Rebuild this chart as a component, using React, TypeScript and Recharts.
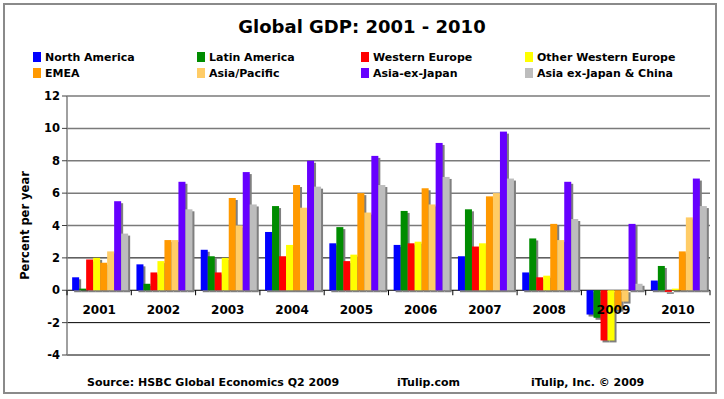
import React from 'react';
import { BarChart, Bar, XAxis, YAxis, CartesianGrid } from 'recharts';

const years = ['2001', '2002', '2003', '2004', '2005', '2006', '2007', '2008', '2009', '2010'];
const northAmerica = [0.8, 1.6, 2.5, 3.6, 2.9, 2.8, 2.1, 1.1, -1.5, 0.6];
const latinAmerica = [0.1, 0.4, 2.1, 5.2, 3.9, 4.9, 5.0, 3.2, -1.7, 1.5];
const westernEurope = [1.9, 1.1, 1.1, 2.1, 1.8, 2.9, 2.7, 0.8, -3.1, -0.1];
const otherWesternEurope = [2.0, 1.8, 2.0, 2.8, 2.2, 3.0, 2.9, 0.9, -3.1, 0.1];
const emea = [1.7, 3.1, 5.7, 6.5, 6.0, 6.3, 5.8, 4.1, -1.2, 2.4];
const asiaPacific = [2.4, 3.1, 4.0, 5.1, 4.8, 5.3, 6.0, 3.1, -0.7, 4.5];
const asiaExJapan = [5.5, 6.7, 7.3, 8.0, 8.3, 9.1, 9.8, 6.7, 4.1, 6.9];
const asiaExJapanChina = [3.5, 5.0, 5.3, 6.4, 6.5, 7.0, 6.9, 4.4, 0.4, 5.2];

const yTicks = [-4, -2, 0, 2, 4, 6, 8, 10, 12];

const series = [
  { key: 'na', name: 'North America', values: northAmerica, color: '#0000FF' },
  { key: 'la', name: 'Latin America', values: latinAmerica, color: '#008C00' },
  { key: 'we', name: 'Western Europe', values: westernEurope, color: '#FF0000' },
  { key: 'owe', name: 'Other Western Europe', values: otherWesternEurope, color: '#FFFF00' },
  { key: 'emea', name: 'EMEA', values: emea, color: '#FF9900' },
  { key: 'ap', name: 'Asia/Pacific', values: asiaPacific, color: '#FFCC66' },
  { key: 'axj', name: 'Asia-ex-Japan', values: asiaExJapan, color: '#6600FF' },
  { key: 'axjc', name: 'Asia ex-Japan & China', values: asiaExJapanChina, color: '#BDBDBD' },
];

const data = years.map((y, i) => {
  const row: any = { year: y };
  series.forEach((s) => { row[s.key] = s.values[i]; });
  return row;
});

const W = 724;
const H = 399;
const TOP = 96;
const BOTTOM = 44;
const LEFT = 67;
const RIGHT = 14;
const PLOT_H = H - TOP - BOTTOM;
const PLOT_W = W - LEFT - RIGHT;
const Y_MIN = -4;
const Y_MAX = 12;
const zeroY = TOP + (PLOT_H * Y_MAX) / (Y_MAX - Y_MIN);
const catW = PLOT_W / years.length;

const FONT = '"DejaVu Sans", Verdana, sans-serif';

const ShadowBar = (props: any) => {
  const { x, y, width, height, fill } = props;
  if (width == null || height == null) return null;
  const top = Math.min(y, y + height);
  const h = Math.abs(height);
  if (h < 0.01) return null;
  return (
    <g>
      <rect x={x + 2} y={top + 2} width={width} height={h} fill="#7f7f7f" />
      <rect x={x} y={top} width={width} height={h} fill={fill} />
    </g>
  );
};

const GridLine = (props: any) => {
  const { x1, x2, y1 } = props;
  const v = Math.round(Y_MAX - ((y1 - TOP) / PLOT_H) * (Y_MAX - Y_MIN));
  const grey = v >= 4;
  return (
    <line x1={x1} x2={x2} y1={y1} y2={y1} stroke={grey ? '#7a7a7a' : '#000'} strokeWidth={grey ? 1.5 : 1} />
  );
};

const XTick = (props: any) => {
  const { x, index } = props;
  const left = x - catW / 2;
  return (
    <g>
      <line x1={left} x2={left} y1={zeroY} y2={zeroY + 5} stroke="#000" />
      {index === years.length - 1 && (
        <line x1={left + catW} x2={left + catW} y1={zeroY} y2={zeroY + 5} stroke="#000" />
      )}
      <text x={x} y={zeroY + 24} textAnchor="middle" fontFamily={FONT} fontWeight="bold" fontSize={12} fill="#000">
        {props.payload.value}
      </text>
    </g>
  );
};

const LegendBlock = () => (
  <div style={{ position: 'absolute', left: 0, top: 49, width: W, height: 34, fontFamily: FONT, fontWeight: 'bold', fontSize: 11, color: '#000' }}>
    {series.map((s, i) => {
      const col = i % 4;
      const row = Math.floor(i / 4);
      return (
        <div key={s.key} style={{ position: 'absolute', left: 33 + col * 164, top: row * 16, height: 16, display: 'flex', alignItems: 'center', whiteSpace: 'nowrap' }}>
          <span style={{ display: 'inline-block', width: 8, height: 10, background: s.color, marginRight: 4 }} />
          <span>{s.name}</span>
        </div>
      );
    })}
  </div>
);

export default function App() {
  return (
    <div style={{ position: 'absolute', left: 0, top: 0, width: W, height: H, background: '#fff', overflow: 'hidden' }}>
      <div style={{ position: 'absolute', left: 3, top: 3, width: 714, height: 391, border: '2px solid #8a8a8a', boxSizing: 'border-box' }} />
      <div style={{ position: 'absolute', left: 0, top: 15, width: W, textAlign: 'center', fontFamily: FONT, fontWeight: 'bold', fontSize: 18, color: '#000', lineHeight: '24px' }}>
        Global GDP: 2001 - 2010
      </div>
      <LegendBlock />
      <div style={{ position: 'absolute', left: 0, top: 0 }}>
        <BarChart width={W} height={H} data={data} margin={{ top: TOP, right: RIGHT, bottom: BOTTOM - 1, left: 0 }} barCategoryGap="8%" barGap={0}>
          <CartesianGrid vertical={false} horizontal={<GridLine />} horizontalValues={yTicks} />
          <XAxis dataKey="year" height={1} axisLine={false} tickLine={false} tick={<XTick />} interval={0} />
          <YAxis
            width={LEFT}
            domain={[Y_MIN, Y_MAX]}
            ticks={yTicks}
            interval={0}
            axisLine={{ stroke: '#808080', strokeWidth: 1.5 }}
            tickLine={{ stroke: '#404040' }}
            tickSize={5}
            tick={{ fontFamily: FONT, fontWeight: 'bold', fontSize: 11.5, fill: '#000' }}
            label={{
              content: (p: any) => {
                const vb = p.viewBox || { x: 0, y: TOP, height: PLOT_H };
                const cx = vb.x + 25;
                const cy = vb.y + vb.height / 2;
                return (
                  <text x={cx} y={cy} transform={`rotate(-90, ${cx}, ${cy})`} textAnchor="middle" dominantBaseline="central" fontFamily={FONT} fontWeight="bold" fontSize={11.5} fill="#000">
                    Percent per year
                  </text>
                );
              },
            }}
          />
          {series.map((s) => (
            <Bar key={s.key} dataKey={s.key} name={s.name} fill={s.color} shape={<ShadowBar />} isAnimationActive={false} />
          ))}
        </BarChart>
      </div>
      <div style={{ position: 'absolute', top: 376, left: 0, width: W, height: 16, fontFamily: FONT, fontWeight: 'bold', fontSize: 11, color: '#000', whiteSpace: 'nowrap' }}>
        <span style={{ position: 'absolute', left: 87 }}>Source: HSBC Global Economics Q2 2009</span>
        <span style={{ position: 'absolute', left: 397 }}>iTulip.com</span>
        <span style={{ position: 'absolute', left: 531 }}>iTulip, Inc. © 2009</span>
      </div>
    </div>
  );
}
